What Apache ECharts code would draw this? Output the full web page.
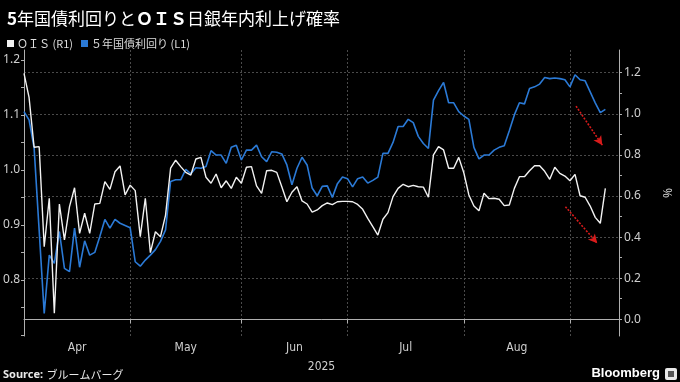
<!DOCTYPE html>
<html>
<head>
<meta charset="utf-8">
<script src="https://cdn.jsdelivr.net/npm/echarts@6/dist/echarts.min.js"></script>
<style>
  html, body { margin: 0; padding: 0; background: #000; }
  #chart { width: 680px; height: 382px; }
</style>
</head>
<body>
<div id="chart"></div>
<script>
// ---- Data (trading-day index 0 = 2025-04-02) ----
const monthNames = ['Apr', 'May', 'Jun', 'Jul', 'Aug', 'Sep'];
const monthStartIdx = [0, 21, 43, 64, 87, 108];
const axisEndIdx = 117.7;
const yearLabel = '2025';

const leftTicks = [0.8, 0.9, 1.0, 1.1, 1.2];
const leftMinorTicks = [0.75, 0.85, 0.95, 1.05, 1.15];
const rightTicks = [0.0, 0.2, 0.4, 0.6, 0.8, 1.0, 1.2];
const rightMinorTicks = [0.1, 0.3, 0.5, 0.7, 0.9, 1.1];

// 5-year JGB yield (%), left axis
const jgb5 = [
  1.106, 1.091, 1.04, 0.89, 0.739, 0.845, 0.83, 0.888, 0.821, 0.815,
  0.894, 0.823, 0.871, 0.845, 0.85, 0.879, 0.910, 0.894, 0.910, 0.903,
  0.899, 0.895, 0.833, 0.825, 0.836, 0.845, 0.855, 0.87, 0.891, 0.979,
  0.982, 0.982, 1.001, 0.993, 1.004, 1.003, 1.006, 1.035, 1.027, 1.027,
  1.012, 1.041, 1.045, 1.018, 1.036, 1.036, 1.045, 1.024, 1.015, 1.033,
  1.032, 1.029, 1.009, 0.973, 1.003, 1.023, 1.009, 0.967, 0.953, 0.97,
  0.971, 0.95, 0.975, 0.987, 0.984, 0.969, 0.984, 0.987, 0.976, 0.981,
  0.987, 1.03, 1.03, 1.05, 1.079, 1.079, 1.092, 1.086, 1.061, 1.048,
  1.039, 1.127, 1.144, 1.159, 1.122, 1.122, 1.106, 1.098, 1.092, 1.041,
  1.02, 1.027, 1.027, 1.036, 1.041, 1.044, 1.071, 1.1, 1.122, 1.12,
  1.148, 1.151, 1.156, 1.168, 1.166, 1.167, 1.166, 1.164, 1.151, 1.173,
  1.164, 1.162, 1.142, 1.122, 1.104, 1.11
];

// OIS-implied probability of BOJ hike within the year, right axis
const ois = [
  1.197, 1.08, 0.837, 0.84, 0.353, 0.589, 0.029, 0.561, 0.386, 0.548,
  0.64, 0.418, 0.516, 0.418, 0.561, 0.564, 0.67, 0.632, 0.718, 0.746,
  0.605, 0.653, 0.626, 0.402, 0.589, 0.324, 0.426, 0.402, 0.507, 0.735,
  0.774, 0.743, 0.715, 0.702, 0.78, 0.788, 0.691, 0.662, 0.707, 0.64,
  0.674, 0.637, 0.691, 0.662, 0.74, 0.743, 0.649, 0.613, 0.723, 0.725,
  0.715, 0.645, 0.572, 0.618, 0.645, 0.576, 0.561, 0.521, 0.532, 0.553,
  0.566, 0.558, 0.572, 0.574, 0.574, 0.572, 0.559, 0.535, 0.491, 0.451,
  0.41, 0.487, 0.519, 0.597, 0.637, 0.657, 0.645, 0.652, 0.645, 0.643,
  0.594, 0.8, 0.84, 0.824, 0.735, 0.735, 0.788, 0.713, 0.605, 0.551,
  0.528, 0.613, 0.587, 0.589, 0.584, 0.553, 0.556, 0.637, 0.694, 0.694,
  0.723, 0.747, 0.747, 0.72, 0.681, 0.74, 0.71, 0.697, 0.674, 0.705,
  0.601, 0.594, 0.551, 0.496, 0.467, 0.637
];

// annotation arrows (index, value)
const arrowJgb = [[109.2, 1.116], [114.4, 1.045]];
const arrowOis = [[107.1, 0.548], [113.4, 0.37]];

const seriesNames = ['ＯＩＳ (R1)', '５年国債利回り (L1)'];
const titleParts = ['5', '年国債利回りと', 'ＯＩＳ', '日銀年内利上げ確率'];

// ---- Build ----
const JP = "'Noto Sans CJK JP', 'Noto Sans', sans-serif";
const NUM = "'Noto Sans', 'Liberation Sans', sans-serif";
const NARROW = "'Liberation Sans Narrow', 'DejaVu Sans Condensed', 'Noto Sans', sans-serif";
const GRID = '#4a4a4a';
const AXIS = '#b0b0b0';
const LABEL = '#cfcfcf';

const labelPos = [];
const labelMap = {};
for (let m = 0; m < 5; m++) {
  const mid = (monthStartIdx[m] + monthStartIdx[m + 1]) / 2;
  labelPos.push(mid);
  labelMap[mid] = monthNames[m];
}

const chart = echarts.init(document.getElementById('chart'), null, { renderer: 'canvas' });

const minLeft = 0.698, maxLeft = 1.218;
const minRight = -0.0813, maxRight = 1.3104;

function arrowLine(pts) {
  return {
    silent: true,
    symbol: ['none', 'arrow'],
    symbolSize: [7, 9],
    label: { show: false },
    lineStyle: { color: '#d81b1b', type: [2, 1.5], width: 1.6 },
    data: [[{ coord: pts[0] }, { coord: pts[1] }]],
    animation: false
  };
}

const option = {
  backgroundColor: '#000',
  animation: false,
  title: {
    text: '{b|' + titleParts[0] + '}{n|' + titleParts[1] + '}{b|' + titleParts[2] + '}{n|' + titleParts[3] + '}',
    left: 2,
    top: 5,
    textStyle: {
      rich: {
        b: { fontFamily: JP, fontSize: 17, fontWeight: 'bold', color: '#fff' },
        n: { fontFamily: JP, fontSize: 17, fontWeight: 'normal', color: '#fff' }
      }
    }
  },
  legend: {
    left: 2,
    top: 33,
    icon: 'rect',
    itemWidth: 7,
    itemHeight: 7,
    itemGap: 8,
    selectedMode: false,
    textStyle: { color: '#ddd', fontSize: 11, fontFamily: JP, padding: [0, 0, 0, -2] },
    data: seriesNames
  },
  grid: { left: 24, right: 49, top: 50, bottom: 46, containLabel: false },
  xAxis: {
    type: 'value',
    min: 0,
    max: axisEndIdx,
    name: yearLabel,
    nameLocation: 'middle',
    nameGap: 25,
    nameTextStyle: { color: LABEL, fontSize: 12, fontFamily: NARROW },
    axisLine: { show: true, lineStyle: { color: AXIS, width: 1 } },
    axisTick: { show: true, customValues: monthStartIdx.slice(1), length: 4, lineStyle: { color: AXIS } },
    axisLabel: {
      show: true,
      customValues: labelPos,
      formatter: v => labelMap[v] || '',
      color: LABEL, fontSize: 12, fontFamily: NARROW, margin: 6
    },
    splitLine: { show: true, lineStyle: { color: GRID, type: [2, 2], width: 1 } }
  },
  yAxis: [
    {
      type: 'value', position: 'left', min: minLeft, max: maxLeft,
      axisLine: { show: true, lineStyle: { color: AXIS } },
      axisTick: { show: true, customValues: [0.7].concat(leftTicks), length: 3, lineStyle: { color: AXIS } },
      axisLabel: { customValues: leftTicks, formatter: v => v.toFixed(1), color: LABEL, fontSize: 12, fontFamily: NUM, margin: 4 },
      splitLine: { show: false }
    },
    {
      type: 'value', position: 'right', min: minRight, max: maxRight,
      name: '%', nameLocation: 'middle', nameGap: 41, nameRotate: -90,
      nameTextStyle: { color: LABEL, fontSize: 12, fontFamily: NUM },
      axisLine: { show: true, lineStyle: { color: AXIS } },
      axisTick: { show: true, customValues: rightTicks, length: 3, lineStyle: { color: AXIS } },
      axisLabel: { customValues: rightTicks, formatter: v => v.toFixed(1), color: LABEL, fontSize: 12, fontFamily: NUM, margin: 5 },
      splitLine: { show: true, lineStyle: { color: GRID, type: [2, 2], width: 1 } }
    },
    {
      type: 'value', position: 'left', min: minLeft, max: maxLeft,
      axisLine: { show: false },
      axisTick: { show: true, customValues: leftMinorTicks, length: 3, lineStyle: { color: AXIS } },
      axisLabel: { show: false },
      splitLine: { show: false }
    },
    {
      type: 'value', position: 'right', min: minRight, max: maxRight,
      axisLine: { show: false },
      axisTick: { show: true, customValues: rightMinorTicks, length: 3, lineStyle: { color: AXIS } },
      axisLabel: { show: false },
      splitLine: { show: false }
    }
  ],
  series: [
    {
      name: seriesNames[0],
      type: 'line',
      yAxisIndex: 1,
      data: ois.map((v, i) => [i, v]),
      showSymbol: false,
      symbol: 'none',
      color: '#f2f2f2',
      lineStyle: { color: '#f2f2f2', width: 1.4 },
      z: 3,
      markLine: arrowLine(arrowOis)
    },
    {
      name: seriesNames[1],
      type: 'line',
      yAxisIndex: 0,
      data: jgb5.map((v, i) => [i, v]),
      showSymbol: false,
      symbol: 'none',
      color: '#2b7ad6',
      lineStyle: { color: '#2b7ad6', width: 1.6 },
      z: 2,
      markLine: arrowLine(arrowJgb)
    }
  ],
  graphic: [
    {
      type: 'text', left: 3, top: 369,
      style: {
        text: '{b|Source:} {n|ブルームバーグ}',
        rich: {
          b: { fontFamily: NUM, fontSize: 11, fontWeight: 'bold', fill: '#e8e8e8' },
          n: { fontFamily: JP, fontSize: 11, fill: '#e8e8e8' }
        }
      }
    },
    {
      type: 'text', right: 20, top: 367,
      style: { text: 'Bloomberg', font: "bold 13px 'Liberation Sans', 'Noto Sans', sans-serif", fill: '#fff' }
    },
    {
      type: 'rect', right: 3, top: 368,
      shape: { width: 12, height: 12, r: 2 },
      style: { fill: '#e8e8e8' }
    },
    {
      type: 'rect', right: 6, top: 371,
      shape: { width: 6, height: 6 },
      style: { fill: '#555' }
    }
  ]
};

chart.setOption(option);
</script>
</body>
</html>
